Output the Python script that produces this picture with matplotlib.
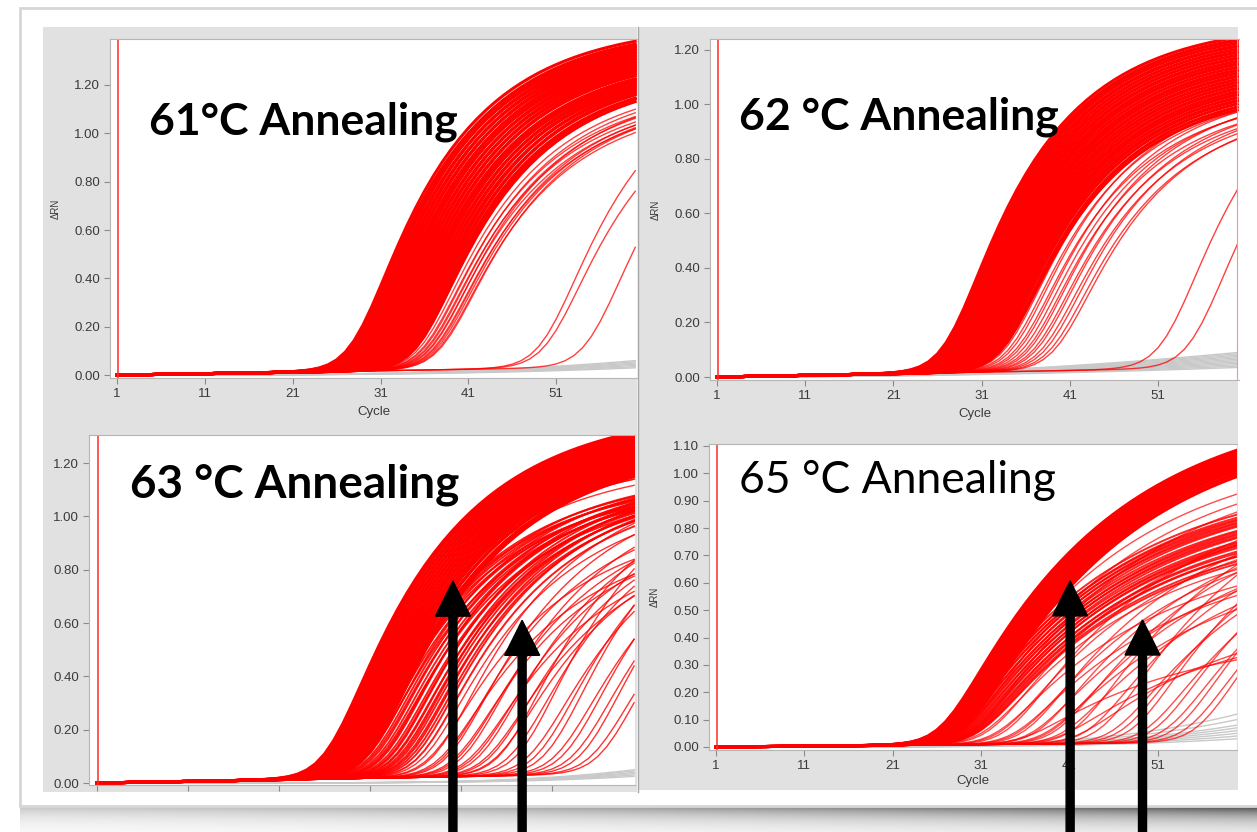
import matplotlib.pyplot as plt
import numpy as np
from matplotlib.patches import Rectangle, FancyArrow

W, H = 1257, 832
cycles = np.arange(1, 61)

# ---- amplification curves: onset cycle and plateau per well ----
# 61 C
on_61_main = [28.4, 28.6, 28.8, 28.9, 29.1, 29.3, 29.5, 29.7, 29.9, 30.1, 30.3, 30.5, 30.7, 30.8, 31.0, 31.2,
              31.4, 31.6, 31.8, 32.0, 32.2, 32.4, 32.6, 32.8, 33.0, 33.2, 33.4, 33.6, 33.8, 34.0, 34.2, 34.4,
              34.7, 34.9, 35.1, 35.3, 35.6, 35.8]
top_61_main = [1.41, 1.39, 1.40, 1.38, 1.39, 1.37, 1.38, 1.36, 1.37, 1.35, 1.36, 1.34, 1.35, 1.33, 1.34, 1.32,
               1.33, 1.31, 1.32, 1.30, 1.31, 1.29, 1.30, 1.28, 1.28, 1.27, 1.28, 1.26, 1.27, 1.25, 1.26, 1.24,
               1.25, 1.23, 1.24, 1.22, 1.22, 1.21]
on_61_loose = [36.2, 36.5, 36.7, 36.9, 37.1, 37.3, 37.5, 37.7, 37.9, 38.1, 38.3, 38.5]
top_61_loose = [1.18, 1.15, 1.17, 1.13, 1.15, 1.12, 1.16, 1.11, 1.13, 1.12, 1.10, 1.12]
on_61_late = [50.0, 50.5, 55.2]
top_61_late = [1.30, 1.20, 1.30]
gray_61 = [0.030, 0.035, 0.040, 0.045, 0.050, 0.055, 0.060]

# 62 C
on_62_main = [27.5, 27.7, 27.9, 28.0, 28.2, 28.4, 28.6, 28.8, 28.9, 29.1, 29.3, 29.5, 29.7, 29.8, 30.0, 30.2,
              30.4, 30.6, 30.7, 30.9, 31.1, 31.3, 31.5, 31.6, 31.8, 32.0, 32.2, 32.4, 32.5, 32.7, 32.9, 33.1,
              33.3, 33.5, 33.8, 34.0]
top_62_main = [1.26, 1.25, 1.25, 1.24, 1.23, 1.23, 1.22, 1.21, 1.21, 1.20, 1.19, 1.19, 1.18, 1.17, 1.17, 1.16,
               1.15, 1.15, 1.14, 1.13, 1.13, 1.12, 1.11, 1.11, 1.10, 1.09, 1.09, 1.08, 1.07, 1.07, 1.06, 1.05,
               1.05, 1.04, 1.03, 1.02]
on_62_loose = [34.4, 34.8, 35.2, 35.6, 36.0, 36.4, 36.8, 37.2, 37.6, 38.0, 38.5, 39.0, 39.5, 40.0]
top_62_loose = [1.05, 1.02, 1.04, 1.00, 1.03, 1.01, 0.99, 1.02, 0.98, 1.00, 0.97, 0.99, 0.96, 0.97]
on_62_late = [52.2, 55.4]
top_62_late = [1.20, 1.20]
gray_62 = [0.035, 0.040, 0.045, 0.050, 0.055, 0.060, 0.065, 0.070, 0.075, 0.080, 0.085, 0.090]

# 63 C
on_63_main = [26.7, 26.9, 27.0, 27.2, 27.3, 27.5, 27.6, 27.8, 27.9, 28.1, 28.2, 28.4, 28.5, 28.7, 28.8, 29.0,
              29.1, 29.3, 29.4, 29.6, 29.7, 29.9, 30.0, 30.2, 30.3, 30.5, 30.7, 30.9, 31.1, 31.3]
top_63_main = [1.36, 1.35, 1.36, 1.34, 1.35, 1.33, 1.34, 1.32, 1.33, 1.31, 1.32, 1.30, 1.31, 1.29, 1.30, 1.28,
               1.29, 1.27, 1.28, 1.26, 1.27, 1.25, 1.26, 1.24, 1.25, 1.23, 1.24, 1.22, 1.23, 1.22]
on_63_second = [29.0, 29.3, 29.5, 29.8, 30.0, 30.3, 30.5, 30.8, 31.1, 31.3, 31.6, 31.8, 32.1, 32.4, 32.6,
                32.9, 33.1, 33.4, 33.7, 33.9, 34.2, 34.4, 34.7, 35.0, 35.2, 35.5, 35.8, 36.1, 36.5, 37.0]
top_63_second = [1.10, 1.12, 1.08, 1.11, 1.13, 1.09, 1.12, 1.10, 1.08, 1.13, 1.11, 1.09, 1.12, 1.10, 1.07,
                 1.11, 1.13, 1.09, 1.10, 1.12, 1.08, 1.11, 1.09, 1.12, 1.10, 1.08, 1.11, 1.09, 1.10, 1.08]
on_63_loose = [27.8, 28.4, 29.0, 37.5, 38.0, 38.6, 39.1, 39.7, 40.2, 40.8, 41.3, 41.9, 42.4, 43.0, 43.6,
               44.2, 44.8, 45.4]
top_63_loose = [1.18, 1.16, 1.19, 1.05, 0.95, 1.12, 0.90, 1.02, 1.10, 0.92, 1.00, 1.08, 0.88, 0.98, 1.05,
                0.90, 1.00, 0.94]
on_63_late = [46.0, 47.0, 48.0, 49.0, 50.0, 51.0, 52.0, 53.0, 54.0, 55.0, 56.0, 57.0]
top_63_late = [1.15, 1.05, 1.20, 1.00, 1.10, 1.18, 1.02, 1.12, 1.05, 1.15, 1.00, 1.10]
gray_63 = [0.025, 0.030, 0.035, 0.040, 0.045, 0.050]

# 65 C
on_65_main = [26.9, 27.0, 27.1, 27.2, 27.4, 27.5, 27.6, 27.7, 27.8, 27.9, 28.0, 28.2, 28.3, 28.4, 28.5, 28.6,
              28.8, 28.9, 29.0, 29.2, 29.3, 29.5]
top_65_main = [1.25, 1.24, 1.25, 1.24, 1.23, 1.24, 1.23, 1.22, 1.23, 1.22, 1.21, 1.22, 1.21, 1.20, 1.21, 1.20,
               1.19, 1.20, 1.19, 1.18, 1.18, 1.17]
on_65_second = [27.5, 27.6, 27.8, 27.9, 28.1, 28.2, 28.4, 28.5, 28.7, 28.8, 29.0, 29.1, 29.3, 29.4, 29.6,
                29.7, 29.9, 30.0, 30.2, 30.3, 30.5, 30.6, 30.8, 30.9, 31.0]
top_65_second = [0.98, 0.96, 0.97, 0.95, 0.96, 0.94, 0.95, 0.92, 0.94, 0.91, 0.92, 0.90, 0.91, 0.88, 0.90,
                 0.87, 0.88, 0.86, 0.87, 0.84, 0.85, 0.83, 0.83, 0.81, 0.80]
on_65_loose = [28.5, 29.6, 30.8,
               31.5, 32.2, 32.9, 33.6, 34.3, 35.0, 35.7, 36.4, 37.1, 37.8, 38.5, 39.2, 39.9, 40.6,
               36.0, 40.0, 42.0]
top_65_loose = [1.08, 1.05, 1.03,
                0.78, 0.90, 0.72, 0.85, 0.95, 0.70, 0.82, 0.92, 0.75, 0.88, 0.68, 0.80, 0.90, 0.74,
                0.40, 0.45, 0.50]
on_65_late = [42.0, 43.5, 45.0, 46.3, 47.5, 48.7, 50.0, 51.2, 52.4, 53.6, 54.8, 56.0]
top_65_late = [1.00, 0.90, 1.05, 0.85, 0.95, 1.05, 0.90, 1.00, 0.95, 1.05, 1.00, 1.10]
gray_65 = [0.03, 0.04, 0.05, 0.06, 0.07, 0.08, 0.10, 0.12]

# arrow tips (cycle, delta Rn)
arrows_63 = [(40.1, 0.757), (47.7, 0.61)]
arrows_65 = [(41.1, 0.607), (49.3, 0.464)]


def amp(onset, top, k, drift):
    # soft onset, then first-order approach to the plateau
    sp = np.log1p(np.exp(0.6 * (cycles - onset))) / 0.6
    return top * (1 - np.exp(-k * sp)) + drift * (cycles - 1)


fig = plt.figure(figsize=(W / 100, H / 100), dpi=100)

# background card, grey frames and bottom shadow
bg = fig.add_axes([0, 0, 1, 1])
bg.set_xlim(0, W)
bg.set_ylim(H, 0)
bg.axis('off')
bg.add_patch(Rectangle((20, 8), W - 18, 798, facecolor='white', edgecolor='#d6d6d6', lw=2))
bg.add_patch(Rectangle((43, 27), 594, 765, facecolor='#e1e1e1', edgecolor='none'))
bg.add_patch(Rectangle((638, 27), 600, 763, facecolor='#e1e1e1', edgecolor='none'))
bg.plot([637.5, 637.5], [27, 792], color='#a5a5a5', lw=1)
yy = np.linspace(0, 1, 30)[:, None]
xx = np.linspace(0, 1, 300)[None, :]
prof = np.where(yy < 0.12, yy / 0.12, np.exp(-(yy - 0.12) * 2.2))
shadow = np.zeros((30, 300, 4))
shadow[..., 3] = prof * (0.22 + 0.45 * xx ** 1.5)
bg.imshow(shadow, extent=(20, W, 832, 804), aspect='auto', interpolation='bilinear')


def panel(box, xlim, ylim, yticks, title, tx, ty, weight, tsize, k, drift, groups, gray, gpow,
          ylab=True, xlab=True, right_line=False):
    x0, y0, x1, y1 = box
    ax = fig.add_axes([x0 / W, 1 - y1 / H, (x1 - x0) / W, (y1 - y0) / H])
    ax.set_facecolor('white')
    for end in gray:
        ax.plot(cycles, end * ((cycles - 1) / 59.0) ** gpow, color='#c9c9c9', lw=1.0)
    for ons, tops, lw, a in groups:
        for c, t in zip(ons, tops):
            ax.plot(cycles, amp(c, t, k, drift), color='#ff0000', lw=lw, alpha=a)
    ax.axvline(1.1, color='#ff2a2a', lw=1.1)
    if right_line:
        ax.axvline(60, color='#ff9090', lw=0.8)
    ax.set_xlim(*xlim)
    ax.set_ylim(*ylim)
    ax.set_xticks([1, 11, 21, 31, 41, 51])
    ax.set_yticks(yticks)
    ax.set_yticklabels(['%.2f' % v for v in yticks])
    ax.tick_params(length=4, width=0.8, color='#8a8a8a', labelcolor='#3a3a3a',
                   labelsize=9.5, pad=3)
    for lab in ax.get_xticklabels() + ax.get_yticklabels():
        lab.set_family('Liberation Sans')
    for side in ['top', 'left', 'bottom']:
        ax.spines[side].set_color('#b5b5b5')
        ax.spines[side].set_linewidth(0.8)
    ax.spines['right'].set_visible(False)
    if ylab:
        ax.text(-54 / (x1 - x0), 0.5, '\u0394RN', rotation=90, transform=ax.transAxes,
                ha='center', va='center', fontsize=7, color='#3a3a3a', family='Liberation Sans')
    if xlab:
        ax.text(0.5, -0.1, 'Cycle', transform=ax.transAxes, ha='center', va='center',
                fontsize=9.5, color='#3a3a3a', family='Liberation Sans')
    else:
        ax.tick_params(axis='x', labelbottom=False)
    ax.text(tx, ty, title, transform=ax.transAxes, ha='left', va='center',
            fontsize=tsize, fontweight=weight, family='Lato', color='black')
    return ax


ax1 = panel((110, 39, 637, 378), (0.2, 60.2), (-0.012, 1.39), np.arange(0, 1.21, 0.2),
            '61\u00b0C Annealing', 0.074, 0.755, 'bold', 32, 0.0975, 0.0006,
            [(on_61_main, top_61_main, 2.2, 1.0),
             (on_61_loose, top_61_loose, 1.0, 0.75),
             (on_61_late, top_61_late, 1.0, 0.75)],
            gray_61, 3)

ax2 = panel((710, 39, 1239, 380), (0.2, 60.2), (-0.011, 1.24), np.arange(0, 1.21, 0.2),
            '62 \u00b0C Annealing', 0.055, 0.771, 'bold', 32, 0.1, 0.0006,
            [(on_62_main, top_62_main, 2.2, 1.0),
             (on_62_loose, top_62_loose, 1.0, 0.75),
             (on_62_late, top_62_late, 1.0, 0.75)],
            gray_62, 2, right_line=True)

ax3 = panel((89, 435, 635, 785), (0.12, 60.1), (-0.0075, 1.305), np.arange(0, 1.21, 0.2),
            '63 \u00b0C Annealing', 0.075, 0.857, 'bold', 33, 0.085, 0.0006,
            [(on_63_main, top_63_main, 2.2, 1.0),
             (on_63_second, top_63_second, 1.4, 0.9),
             (on_63_loose, top_63_loose, 1.0, 0.8),
             (on_63_late, top_63_late, 1.0, 0.8)],
            gray_63, 5, ylab=False, xlab=False)

ax4 = panel((709, 444, 1237, 750), (0.2, 60.0), (-0.011, 1.107), np.arange(0, 1.11, 0.1),
            '65 \u00b0C Annealing', 0.057, 0.882, 'normal', 32, 0.058, 0.0003,
            [(on_65_main, top_65_main, 2.2, 1.0),
             (on_65_second, top_65_second, 1.4, 0.85),
             (on_65_loose, top_65_loose, 1.0, 0.7),
             (on_65_late, top_65_late, 1.0, 0.7)],
            gray_65, 4, right_line=True)


# black arrows pointing at the two populations, running off the bottom edge
def arrow_up(ax, tip, px_cycle, px_unit, y_px_zero):
    x, y = tip
    base = (y_px_zero - 845) / px_unit
    ax.add_patch(FancyArrow(x, base, 0, y - base, width=8 / px_cycle,
                            head_width=35 / px_cycle, head_length=35 / px_unit,
                            length_includes_head=True, color='black', clip_on=False, zorder=10))


for tip in arrows_63:
    arrow_up(ax3, tip, 9.1, 266.7, 783)
for tip in arrows_65:
    arrow_up(ax4, tip, 8.82, 273.6, 747)

fig.savefig('out.png', dpi=100)
